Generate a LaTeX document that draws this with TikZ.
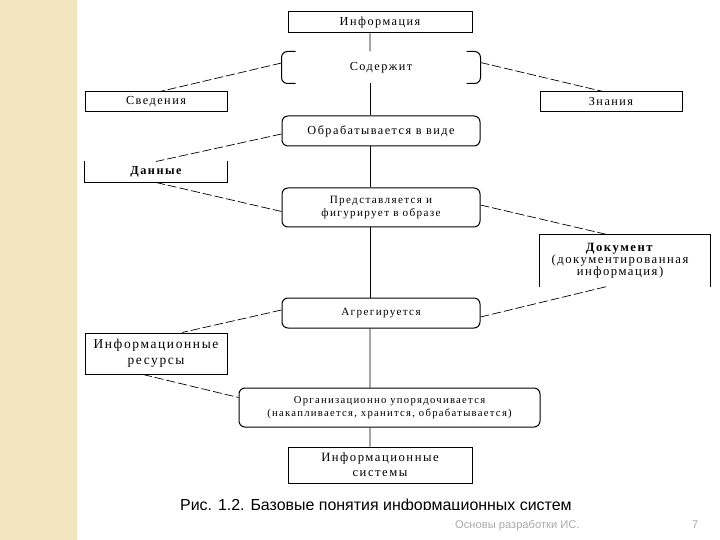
\documentclass[tikz,border=0pt]{standalone}
\usepackage{fontspec}
\setmainfont{Liberation Serif}
\newfontfamily\dfont[LetterSpace=12]{Liberation Serif}
\newfontfamily\capfont{Liberation Sans}
\definecolor{beige}{RGB}{243,229,192}
\definecolor{footgray}{RGB}{170,170,170}
\begin{document}
\begin{tikzpicture}[x=1bp,y=-1bp,
  box/.style={draw, line width=1bp, inner sep=0pt, align=center, font=\dfont\fontsize{12.3}{14}\selectfont},
  rbox/.style={box, rounded corners=6bp},
  nobox/.style={box, draw=none},
  edge/.style={line width=1bp},
  conn/.style={line width=0.7bp, dash pattern=on 9bp off 3bp},
  spine/.style={line width=0.7bp}]
\useasboundingbox (0,0) rectangle (720,540);
\fill[beige] (0,0) rectangle (77,540);

\node[box, minimum width=184bp, minimum height=21bp] (info) at (380,22.5) {Информация};
\node[nobox, minimum width=198bp, minimum height=31bp] (sod) at (381,67.5) {Содержит};
\node[box, minimum width=142bp, minimum height=20bp] (sved) at (156,102) {Сведения};
\node[box, minimum width=142bp, minimum height=20bp] (zn) at (611,102) {Знания};
\node[rbox, minimum width=198bp, minimum height=30bp] (obr) at (381,131) {Обрабатывается в виде};
\node[nobox, minimum width=142bp, minimum height=20bp, font=\dfont\bfseries\fontsize{12.3}{14}\selectfont] (dan) at (156,172) {Данные};
\node[rbox, minimum width=198bp, minimum height=39bp, font=\dfont\fontsize{11.2}{13}\selectfont] (pred) at (381,207.5) {Представляется и\\фигурирует в образе};
\node[nobox, minimum width=160bp, minimum height=51bp, font=\dfont\fontsize{12.7}{12}\selectfont] (dok) at (620,260.5) {\textbf{Документ}\\(документированная\\информация)};
\node[rbox, minimum width=198bp, minimum height=30bp, font=\dfont\fontsize{11.2}{13}\selectfont] (agr) at (381,313) {Агрегируется};
\node[box, minimum width=142bp, minimum height=41bp, font=\dfont\fontsize{13.5}{16}\selectfont] (ir) at (156,353.5) {Информационные\\ресурсы};
\node[rbox, minimum width=301bp, minimum height=39bp, font=\dfont\fontsize{10.7}{13}\selectfont] (org) at (389.5,407.5) {Организационно упорядочивается\\(накапливается, хранится, обрабатывается)};
\node[box, minimum width=184bp, minimum height=36bp, font=\dfont\fontsize{12.7}{15}\selectfont] (is) at (380,465) {Информационные\\системы};

% bracket-style box Содержит
\draw[edge] ([xshift=14bp]sod.north west) -- ([xshift=6bp]sod.north west) arc[start angle=90,end angle=180,radius=6bp] -- ([yshift=6bp]sod.south west) arc[start angle=180,end angle=270,radius=6bp] -- ([xshift=14bp]sod.south west);
\draw[edge] ([xshift=-14bp]sod.north east) -- ([xshift=-6bp]sod.north east) arc[start angle=90,end angle=0,radius=6bp] -- ([yshift=6bp]sod.south east) arc[start angle=0,end angle=-90,radius=6bp] -- ([xshift=-14bp]sod.south east);
% open boxes
\draw[edge] (dan.north west) -- (dan.south west) -- (dan.south east) -- (dan.north east);
\draw[edge] (dok.south west) -- (dok.north west) -- ([xshift=10bp]dok.north east) -- ([xshift=10bp]dok.south east);

% spine
\draw[spine] ([xshift=-10bp]info.south) -- ([xshift=-11bp]sod.north);
\draw[spine] ([xshift=-11bp]sod.south) -- ([xshift=-11bp]obr.north);
\draw[spine] ([xshift=-11bp]obr.south) -- ([xshift=-11bp]pred.north);
\draw[spine] ([xshift=-11bp]pred.south) -- ([xshift=-11bp]agr.north);
\draw[spine] ([xshift=-11bp]agr.south) -- ([xshift=-19.5bp]org.north);
\draw[spine] ([xshift=-19.5bp]org.south) -- ([xshift=-10bp]is.north);

% dashed connectors
\draw[conn] ([yshift=4.5bp]sod.west) -- ([xshift=4bp]sved.north);
\draw[conn] ([yshift=5bp]sod.east) -- ([xshift=-8bp]zn.north);
\draw[conn] ([yshift=-3bp]obr.west) -- (dan.north);
\draw[conn] (dan.south) -- ([yshift=-4bp]pred.west);
\draw[conn] ([yshift=2.5bp]pred.east) -- ([xshift=-13bp]dok.north);
\draw[conn] ([yshift=-4bp]agr.east) -- ([xshift=-13bp]dok.south);
\draw[conn] ([yshift=3bp]agr.west) -- ([xshift=26bp]ir.north);
\draw[conn] ([xshift=-13bp]ir.south) -- ([yshift=10bp]org.west);

% caption (clipped at the bottom as in the picture)
\begin{scope}
\clip (170,488) rectangle (600,509.5);
\node[anchor=base west, inner sep=0pt, font=\capfont\fontsize{16}{19}\selectfont] (cap) at (180,510) {Рис. 1.2. Базовые понятия информационных систем};
\end{scope}

% footer
\node[anchor=base west, inner sep=0pt, text=footgray, font=\capfont\fontsize{11.2}{14}\selectfont] (foot) at (455,528) {Основы разработки ИС.};
\node[anchor=base west, inner sep=0pt, text=footgray, font=\capfont\fontsize{11.2}{14}\selectfont] (pg) at (692,528) {7};
\end{tikzpicture}
\end{document}
